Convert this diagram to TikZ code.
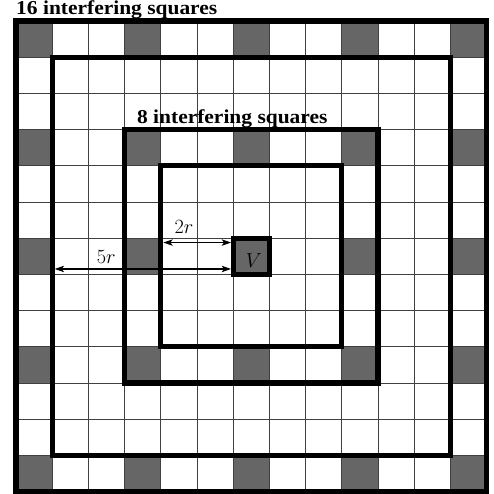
\documentclass[tikz,border=0pt]{standalone}
\usepackage{fontspec}
\newfontfamily\timesfont[FakeStretch=1.09]{Liberation Serif}
\usetikzlibrary{arrows.meta}
\definecolor{cellgray}{RGB}{102,102,102}
\begin{document}
\begin{tikzpicture}[x=1.086cm,y=-1.086cm,
  gridline/.style={line width=0.7pt,draw=black!75},
  thickbox/.style={line width=4.3pt,draw=black},
  graycell/.style={fill=cellgray},
  dimarrow/.style={line width=0.9pt,{Stealth[length=8pt,width=5.5pt,inset=2pt]}-{Stealth[length=8pt,width=5.5pt,inset=2pt]}},
  heading/.style={font=\timesfont\bfseries\fontsize{16.8}{20}\selectfont,inner sep=0pt,anchor=base west},
  mathlabel/.style={font=\fontsize{18.7}{22}\selectfont,inner sep=0pt}]
\useasboundingbox (-0.442,-0.580) rectangle (13.177,13.066);
% gray cells: outer ring (16)
\foreach \i in {0,3,6,9,12}{
  \fill[graycell] (\i,0) rectangle ++(1,1);
  \fill[graycell] (\i,12) rectangle ++(1,1);
}
\foreach \j in {3,6,9}{
  \fill[graycell] (0,\j) rectangle ++(1,1);
  \fill[graycell] (12,\j) rectangle ++(1,1);
}
% gray cells: inner ring (8)
\foreach \i in {3,6,9}{
  \fill[graycell] (\i,3) rectangle ++(1,1);
  \fill[graycell] (\i,9) rectangle ++(1,1);
}
\fill[graycell] (3,6) rectangle ++(1,1);
\fill[graycell] (9,6) rectangle ++(1,1);
% center cell
\fill[graycell] (6,6) rectangle ++(1,1);
% grid
\foreach \k in {1,...,12}{
  \draw[gridline] (\k,0) -- (\k,13);
  \draw[gridline] (0,\k) -- (13,\k);
}
% thick rectangles
\draw[thickbox] (0,0) rectangle (13,13);
\draw[thickbox] (1,1) rectangle (12,12);
\draw[thickbox] (3,3) rectangle (10,10);
\draw[thickbox] (4,4) rectangle (9,9);
\draw[thickbox,line width=4pt] (6,6) rectangle (7,7);
% labels
\node[heading] (h16) at (0,-0.166) {16 interfering squares};
\node[heading] (h8) at (3.34,2.845) {8 interfering squares};
\node[mathlabel] (V) at (6.57,6.63) {$V$};
\node[mathlabel] (l2r) at (4.64,5.69) {$2r$};
\node[mathlabel] (l5r) at (2.49,6.52) {$5r$};
% dimension arrows
\coordinate (a2s) at (4.07,6.12);
\coordinate (a2e) at (5.94,6.12);
\coordinate (a5s) at (1.07,6.85);
\coordinate (a5e) at (5.94,6.85);
\draw[dimarrow] (a2s) -- (a2e);
\draw[dimarrow] (a5s) -- (a5e);
\end{tikzpicture}
\end{document}
